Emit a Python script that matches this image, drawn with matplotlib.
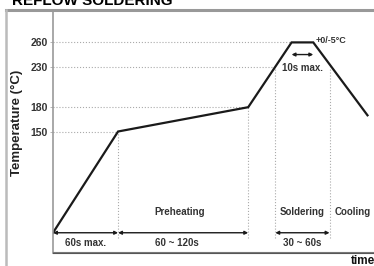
import matplotlib.pyplot as plt
from matplotlib.lines import Line2D

plt.rcParams['font.family'] = ['Liberation Sans', 'DejaVu Sans']

# profile points (time in s, temperature in C)
profile_time = [0, 60, 180, 220, 240, 290]
profile_temp = [25, 150, 180, 260, 260, 170]

temp_ticks = [150, 180, 230, 260]
# where each reference level meets the curve
level_end = [60, 180, 205, 220]

# vertical markers: time, top temperature
marker_time = [60, 180, 205, 255]
marker_top = [150, 180, 230, 230]

phase_names = ['Preheating', 'Soldering', 'Cooling']
phase_x = [117, 230, 276]

spans = [(0, 60), (60, 180), (205, 255)]
span_labels = ['60s max.', '60 ~ 120s', '30 ~ 60s']
span_label_x = [30, 114, 230]

W, H = 374, 266
fig = plt.figure(figsize=(W / 100, H / 100), dpi=100)
ax = fig.add_axes([53 / W, (H - 253) / H, (W - 53) / W, (253 - 10) / H])
ax.set_xlim(0, 296)
ax.set_ylim(0, 300)

dark = '#1a1a1a'
grid_c = '#aaaaaa'
txt_c = '#333333'

# dotted reference levels
for t, e in zip(temp_ticks, level_end):
    ax.plot([0, e], [t, t], ls=':', lw=0.8, color=grid_c)
for t, top in zip(marker_time, marker_top):
    ax.plot([t, t], [19, top], ls=':', lw=0.8, color=grid_c)

ax.plot(profile_time, profile_temp, color=dark, lw=1.6, solid_joinstyle='miter')

arrow = dict(arrowstyle='<|-|>', color=dark, lw=1.0, mutation_scale=5, shrinkA=0, shrinkB=0)
for (a, b), lab, lx in zip(spans, span_labels, span_label_x):
    ax.annotate('', xy=(b, 25), xytext=(a, 25), arrowprops=arrow)
    ax.text(lx, 12, lab, ha='center', va='center', fontsize=7, fontweight='bold', color=txt_c)

for name, px in zip(phase_names, phase_x):
    ax.text(px, 51, name, ha='center', va='center', fontsize=7, fontweight='bold', color=txt_c)

ax.annotate('', xy=(240, 245), xytext=(220, 245), arrowprops=arrow)
ax.text(230, 228, '10s max.', ha='center', va='center', fontsize=7, fontweight='bold', color=txt_c)
ax.text(242, 262, '+0/-5°C', ha='left', va='center', fontsize=6.5, fontweight='bold', color=txt_c)

ax.set_yticks(temp_ticks)
ax.set_yticklabels([str(t) for t in temp_ticks], fontsize=7.5, fontweight='bold', color=txt_c)
ax.tick_params(axis='y', length=2, width=0.6, color=grid_c, pad=2)
ax.set_xticks([])
for s in ['top', 'right']:
    ax.spines[s].set_visible(False)
ax.spines['left'].set_color('#999999')
ax.spines['left'].set_linewidth(1.2)
ax.spines['bottom'].set_color('#555555')
ax.spines['bottom'].set_linewidth(0.8)

# second bottom line, outer frame and heading
fig.add_artist(Line2D([53 / W, 1], [(H - 251.5) / H] * 2, color='#777777', lw=0.8))
fig.add_artist(Line2D([6 / W, 1], [(H - 10) / H] * 2, color='#999999', lw=2.2))
fig.add_artist(Line2D([6 / W] * 2, [0, (H - 10) / H], color='#bbbbbb', lw=1.8))
fig.text(12 / W, 1 - 5 / H, 'REFLOW SOLDERING', ha='left', va='baseline',
         fontsize=11, fontweight='bold', color='black')
fig.text(17 / W, (H - 123) / H, 'Temperature (°C)', rotation=90, ha='center', va='center',
         fontsize=9.5, fontweight='bold', color='#222222')
fig.text(351 / W, (H - 261) / H, 'time', ha='left', va='center',
         fontsize=8.5, fontweight='bold', color='#111111')

fig.savefig('out.png', dpi=100)
